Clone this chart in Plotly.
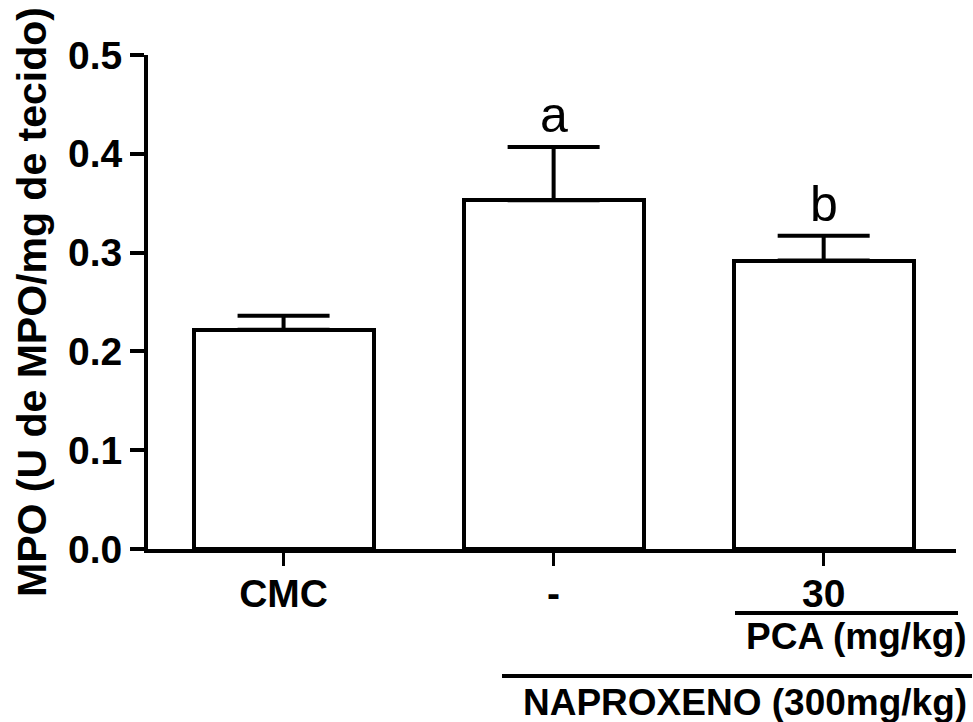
import plotly.graph_objects as go

categories = ["CMC", "-", "30"]
means = [0.222, 0.353, 0.292]
sem = [0.014, 0.054, 0.025]
letters = ["", "a", "b"]
y_ticks = [0.0, 0.1, 0.2, 0.3, 0.4, 0.5]
y_ticklabels = ["0.0", "0.1", "0.2", "0.3", "0.4", "0.5"]

W, H = 973, 722
L, R, T, B = 148, 17, 55, 173
FONT = "Arial, Liberation Sans, sans-serif"

def px_x(p):
    return (p - L) / (W - L - R)

def px_y(p):
    return 1 - (p - T) / (H - T - B)

fig = go.Figure()
fig.add_trace(go.Bar(
    x=categories, y=means, width=0.667,
    marker=dict(color="white", line=dict(color="black", width=4)),
    error_y=dict(type="data", symmetric=False, array=sem, arrayminus=[0]*len(sem),
                 color="black", thickness=4, width=46),
    showlegend=False,
))

for i, (m, s, l) in enumerate(zip(means, sem, letters)):
    if l:
        fig.add_annotation(x=i, y=m + s, text=l, showarrow=False, yanchor="bottom",
                           yshift=2, font=dict(family=FONT, size=50, color="black"))

# group lines and labels below the axis
fig.add_shape(type="line", xref="paper", yref="paper", x0=px_x(735), x1=px_x(958),
              y0=px_y(613), y1=px_y(613), line=dict(color="black", width=4))
fig.add_annotation(xref="paper", yref="paper", x=px_x(969), y=px_y(636), xanchor="right",
                   yanchor="middle", text="PCA (mg/kg)", showarrow=False,
                   font=dict(family=FONT, size=37, color="black", weight="bold"))
fig.add_shape(type="line", xref="paper", yref="paper", x0=px_x(502), x1=px_x(972),
              y0=px_y(676), y1=px_y(676), line=dict(color="black", width=4))
fig.add_annotation(xref="paper", yref="paper", x=px_x(969), y=px_y(702), xanchor="right",
                   yanchor="middle", text="NAPROXENO (300mg/kg)", showarrow=False,
                   font=dict(family=FONT, size=37, color="black", weight="bold"))

fig.update_layout(
    width=W, height=H,
    margin=dict(l=L, r=R, t=T, b=B, pad=0),
    paper_bgcolor="white", plot_bgcolor="white",
    font=dict(family=FONT, color="black"),
    bargap=0,
)
fig.update_xaxes(
    type="category", range=[-0.502, 2.49],
    showline=True, linecolor="black", linewidth=4,
    ticks="outside", ticklen=13, tickwidth=3, tickcolor="black",
    tickfont=dict(family=FONT, size=39, color="black", weight="bold"),
    ticklabelstandoff=-6,
    showgrid=False, zeroline=False,
)
fig.update_yaxes(
    range=[0, 0.5], tickvals=y_ticks, ticktext=y_ticklabels,
    showline=True, linecolor="black", linewidth=4,
    ticks="outside", ticklen=14, tickwidth=4, tickcolor="black",
    tickfont=dict(family=FONT, size=39, color="black", weight="bold"),
    showgrid=False, zeroline=False,
    title=dict(text="MPO (U de MPO/mg de tecido)", standoff=10,
               font=dict(family=FONT, size=41, color="black", weight="bold")),
)

fig.write_html("out.html", config={"displayModeBar": False},
               post_script="document.body.style.margin='0';document.body.style.padding='0';")
